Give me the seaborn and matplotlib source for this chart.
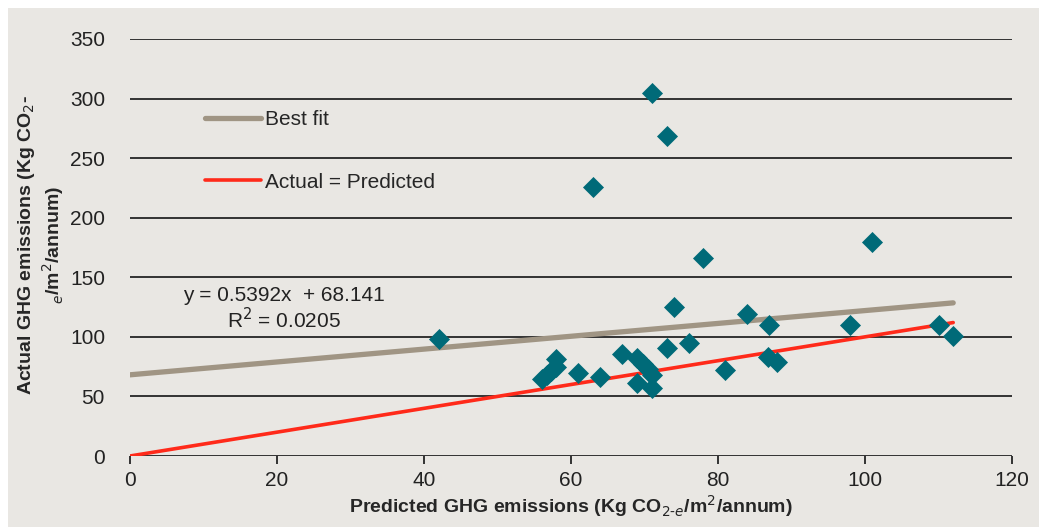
import matplotlib
matplotlib.use("Agg")
import matplotlib.pyplot as plt
import seaborn as sns
import numpy as np
import pandas as pd
from matplotlib.patches import Rectangle

# Predicted vs actual GHG emissions (Kg CO2-e/m2/annum)
predicted = [42, 56, 56.7, 57.3, 58, 58, 61, 63, 64, 67, 69, 69, 69.8, 70.5,
             71, 71, 71, 73, 73, 74, 76, 78, 81, 84, 87, 86.8, 88, 98, 101,
             110, 112]
actual = [98, 65, 68, 71, 75, 81, 70, 226, 66, 86, 82, 61, 77, 73,
          68, 57, 305, 269, 91, 125, 95, 166, 72, 119, 110, 83, 79, 110, 180,
          110, 101]

slope = 0.5392
intercept = 68.141
r2 = 0.0205
fit_x = [0, 112]
fit_y = [intercept + slope * v for v in fit_x]
ident_x = [0, 112]
ident_y = [0, 112]

y_ticks = [0, 50, 100, 150, 200, 250, 300, 350]
x_ticks = [0, 20, 40, 60, 80, 100, 120]

bg = "#E9E7E3"
sns.set_style("white")
plt.rcParams["font.family"] = ["Liberation Sans", "DejaVu Sans"]

df = pd.DataFrame({"Predicted": predicted, "Actual": actual})

fig = plt.figure(figsize=(10.39, 5.27), dpi=100)
fig.patch.set_facecolor("white")
fig.patches.append(Rectangle((8 / 1039, 0), 1, 1 - 8 / 527, transform=fig.transFigure,
                             facecolor=bg, edgecolor="none", zorder=-10))
ax = fig.add_axes([130 / 1039, 1 - 456 / 527, 882 / 1039, 417 / 527])
ax.set_facecolor(bg)

for yt in y_ticks:
    ax.axhline(yt, color="#333333", lw=1.4, zorder=1)

fit_line, = ax.plot(fit_x, fit_y, color="#A09584", lw=3.8, solid_capstyle="round",
                    zorder=3, label="Best fit")
id_line, = ax.plot(ident_x, ident_y, color="#FF2A1A", lw=2.6, zorder=3,
                   label="Actual = Predicted")

sns.scatterplot(data=df, x="Predicted", y="Actual", marker="D", s=115,
                color="#006A78", linewidth=0, zorder=4, ax=ax)

ax.set_xlim(0, 120)
ax.set_ylim(0, 350)
ax.set_xticks(x_ticks)
ax.set_yticks(y_ticks)
for s in ["top", "right", "left", "bottom"]:
    ax.spines[s].set_visible(False)
ax.tick_params(axis="x", direction="out", length=6, width=1.4, color="#333333",
               labelsize=15, labelcolor="#222222", pad=5, bottom=True)
ax.tick_params(axis="y", length=0, labelsize=15, labelcolor="#222222", pad=18)

ax.set_xlabel("Predicted GHG emissions (Kg CO$_{2\\text{-}e}$/m$^2$/annum)",
              fontsize=14, fontweight="bold", labelpad=2)
ax.set_ylabel("Actual GHG emissions (Kg CO$_2$-\n$_e$/m$^2$/annum)",
              fontsize=14, fontweight="bold")
ax.yaxis.set_label_coords(-0.072, 0.505)

ax.legend(handles=[fit_line, id_line], loc="upper left",
          bbox_to_anchor=(0.085, 0.83), frameon=False, fontsize=15,
          handlelength=2.7, handletextpad=0.2, labelspacing=2.1,
          borderpad=0, borderaxespad=0)

ax.text(0.175, 0.385, "y = 0.5392x  + 68.141", transform=ax.transAxes,
        ha="center", va="center", fontsize=15, color="#222222")
ax.text(0.175, 0.328, "R$^2$ = %.4f" % r2, transform=ax.transAxes,
        ha="center", va="center", fontsize=15, color="#222222")

fig.savefig("out.png", dpi=100, facecolor=fig.get_facecolor())
